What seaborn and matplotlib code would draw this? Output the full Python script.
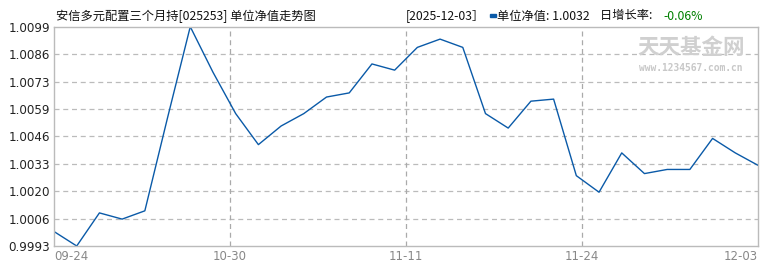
import matplotlib
matplotlib.use("Agg")
import matplotlib.pyplot as plt
import seaborn as sns
import numpy as np
import pandas as pd

# ---- data ----
nav = [1.0000, 0.9993, 1.0009, 1.0006, 1.0010, 1.0055, 1.0099, 1.0077,
       1.0057, 1.0042, 1.0051, 1.0057, 1.0065, 1.0067, 1.0081, 1.0078,
       1.0089, 1.0093, 1.0089, 1.0057, 1.0050, 1.0063, 1.0064, 1.0027,
       1.0019, 1.0038, 1.0028, 1.0030, 1.0030, 1.0045, 1.0038, 1.0032]
x_labels = ["09-24", "10-30", "11-11", "11-24", "12-03"]
y_labels = ["0.9993", "1.0006", "1.0020", "1.0033", "1.0046",
            "1.0059", "1.0073", "1.0086", "1.0099"]
title_left = "安信多元配置三个月持[025253] 单位净值走势图"
date_text = "[2025-12-03］"
nav_text = "单位净值: 1.0032"
chg_label = "日增长率: "
chg_value = "-0.06%"

sns.set_style("white")
plt.rcParams['font.family'] = ['Noto Sans CJK SC', 'DejaVu Sans']

df = pd.DataFrame({"i": np.arange(len(nav)), "nav": nav})

W, H = 770, 270
fig = plt.figure(figsize=(W / 100, H / 100), dpi=100)
L, R, T, B = 54, 758, 26.7, 246
ax = fig.add_axes([L / W, 1 - B / H, (R - L) / W, (B - T) / H])

sns.lineplot(data=df, x="i", y="nav", ax=ax, color="#0a5aa8", lw=1.0)

n = len(nav) - 1
ymin, ymax = min(nav), max(nav)
ax.set_xlim(0, n)
ax.set_ylim(ymin, ymax)

yt = np.linspace(ymin, ymax, len(y_labels))
ax.set_yticks(yt)
ax.set_yticklabels(y_labels, fontsize=8.6, color="#222222", family="DejaVu Sans")
xt = np.linspace(0, n, len(x_labels))
ax.set_xticks(xt)
xtl = ax.set_xticklabels(x_labels, fontsize=8.5, color="#888888", family="DejaVu Sans")
xtl[0].set_ha("left")
xtl[-1].set_ha("right")
ax.tick_params(axis="both", length=0, pad=3)
ax.set_xlabel("")
ax.set_ylabel("")

for v in yt[1:-1]:
    ax.axhline(v, color="#bbbbbb", lw=0.9, ls=(0, (4, 3)), zorder=0)
for v in xt[1:-1]:
    ax.axvline(v, color="#aaaaaa", lw=0.9, ls=(0, (4, 3)), zorder=0)

for s in ax.spines.values():
    s.set_color("#bbbbbb")
    s.set_linewidth(1.0)

# watermark
ax.text(0.9045, 0.955, "天天基金网", transform=ax.transAxes, ha="center", va="top",
        fontsize=15.5, color="#d0d0d0", fontweight="bold")
ax.text(0.9045, 0.835, "www.1234567.com.cn", transform=ax.transAxes, ha="center",
        va="top", fontsize=6.9, color="#c8c8c8", family="DejaVu Sans Mono",
        fontweight="bold")

# header texts
ty = 1 - 16 / H
fs = 8.8
fig.text(56 / W, ty, title_left, fontsize=fs, ha="left", va="center", color="#111111")
fig.text(406 / W, ty, date_text, fontsize=fs, ha="left", va="center", color="#111111")
fig.patches.append(plt.Rectangle((490 / W, 1 - 17 / H), 6 / W, 3 / H,
                                 transform=fig.transFigure, color="#0a5aa8"))
fig.text(497 / W, ty, nav_text, fontsize=fs, ha="left", va="center", color="#111111")
fig.text(600 / W, ty, chg_label, fontsize=fs, ha="left", va="center", color="#111111")
fig.text(663 / W, ty, chg_value, fontsize=fs, ha="left", va="center", color="#008000")

fig.savefig("out.png", dpi=100)
